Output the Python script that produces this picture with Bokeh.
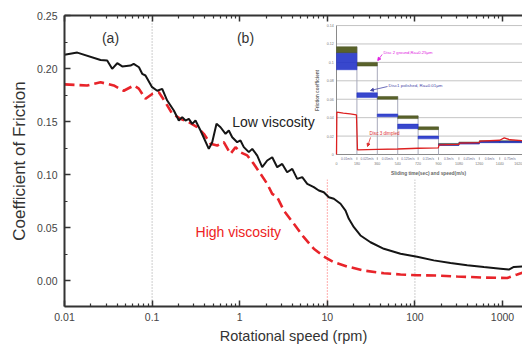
from bokeh.plotting import figure
from bokeh.models import (Range1d, LinearScale, FixedTicker, NumeralTickFormatter,
                          CustomJSTickFormatter, LogAxis, Arrow, NormalHead)
from bokeh.core.properties import value
from bokeh.embed import file_html
from bokeh.resources import INLINE

# ---------------- main chart data ----------------
speed_low = [0.01, 0.014, 0.0258, 0.0307, 0.035, 0.040, 0.0456, 0.0567, 0.0616, 0.0708, 0.0771,
             0.084, 0.100, 0.1143, 0.1304, 0.1487, 0.177, 0.2018, 0.2206, 0.2406, 0.2624, 0.287,
             0.3128, 0.357, 0.4438, 0.4853, 0.5435, 0.604, 0.689, 0.751, 0.821, 0.936, 1.02, 1.114,
             1.27, 1.39, 1.585, 1.806, 2.06, 2.35, 2.68, 3.055, 3.48, 3.98, 4.53, 5.17, 5.9, 7.01,
             8.0, 9.12, 10.4, 11.87, 14.15, 16.14, 17.6, 20.1, 23.9, 31.1, 44.2, 68.5, 106, 164,
             255, 395, 612, 948, 1180, 1346, 1690]
cof_low = [0.213, 0.215, 0.208, 0.2075, 0.1997, 0.205, 0.202, 0.2028, 0.2044, 0.2012, 0.195,
           0.1934, 0.1824, 0.179, 0.1808, 0.1698, 0.1604, 0.1509, 0.1541, 0.1509, 0.1525, 0.1478,
           0.1509, 0.1415, 0.1242, 0.1305, 0.1478, 0.1446, 0.1384, 0.1415, 0.1352, 0.1305, 0.1321,
           0.1258, 0.1211, 0.1242, 0.1179, 0.1069, 0.1132, 0.1163, 0.1069, 0.110, 0.1021, 0.1053,
           0.0959, 0.0975, 0.0912, 0.0881, 0.0849, 0.0833, 0.0786, 0.0771, 0.0724, 0.066, 0.0582,
           0.0503, 0.0425, 0.0361, 0.0299, 0.0252, 0.0225, 0.019, 0.0165, 0.0145, 0.0128, 0.0112,
           0.0103, 0.0128, 0.0132]

speed_high = [0.01, 0.01815, 0.0258, 0.0365, 0.0475, 0.0618, 0.0705, 0.0841, 0.1002, 0.1193,
              0.1422, 0.1696, 0.211, 0.2624, 0.327, 0.389, 0.464, 0.553, 0.658, 0.785, 0.895,
              1.02, 1.218, 1.449, 1.727, 2.06, 2.35, 2.68, 3.19, 4.15, 5.39, 7.01, 9.12, 11.87,
              16.9, 26.1, 44.2, 68.5, 106, 179.8, 304, 612, 1131, 1472, 1690]
cof_high = [0.185, 0.184, 0.187, 0.184, 0.179, 0.184, 0.181, 0.1714, 0.176, 0.1776, 0.168,
            0.1573, 0.1525, 0.1493, 0.1446, 0.1384, 0.129, 0.1274, 0.1305, 0.1195, 0.1258,
            0.121, 0.118, 0.110, 0.1007, 0.0912, 0.0818, 0.0786, 0.066, 0.0535, 0.0409, 0.030,
            0.0226, 0.0173, 0.0132, 0.0094, 0.0069, 0.0057, 0.0050, 0.0047, 0.0038, 0.0028,
            0.0024, 0.0057, 0.0075]

x_ticks = [0.01, 0.1, 1, 10, 100, 1000]
y_ticks = [0.0, 0.05, 0.10, 0.15, 0.20, 0.25]
y_minor = [-0.025, 0.025, 0.075, 0.125, 0.175, 0.225]
marker_speeds = [0.1, 10, 100]
marker_colors = ["#9a9a9a", "#ff5a5a", "#9a9a9a"]

# ---------------- inset data ----------------
seg_start = [0, 180, 360, 540, 720, 900, 1080, 1260, 1440]
seg_end = [180, 360, 540, 720, 900, 1080, 1260, 1440, 1650]
disc2_lo = [0.110, 0.096, 0.060, 0.039, 0.027, 0.0100, 0.0118, 0.0132, 0.0132]
disc2_hi = [0.117, 0.100, 0.063, 0.042, 0.030, 0.0120, 0.0135, 0.0150, 0.0150]
disc1_lo = [0.092, 0.062, 0.041, 0.028, 0.017, 0.0098, 0.0113, 0.0128, 0.0128]
disc1_hi = [0.110, 0.067, 0.044, 0.033, 0.020, 0.0113, 0.0128, 0.0143, 0.0143]
disc3_t = [0, 3, 60, 120, 176, 185, 360, 540, 720, 898, 905, 1080, 1085, 1260, 1265, 1440,
           1480, 1530, 1650]
disc3_v = [0.0, 0.046, 0.045, 0.044, 0.043, 0.005, 0.0055, 0.006, 0.0068, 0.0072, 0.0105,
           0.011, 0.0123, 0.013, 0.0145, 0.0155, 0.018, 0.016, 0.015]
drop_t = [180, 360, 540, 720, 900]
inset_y_ticks = [0.0, 0.02, 0.04, 0.06, 0.08, 0.10, 0.12, 0.14]
inset_y_labels = ["0", "0.02", "0.04", "0.06", "0.08", "0.1", "0.12", "0.14"]
inset_x_ticks = [0, 180, 360, 540, 720, 900, 1080, 1260, 1440, 1620]
inset_speeds = ["0.01m/s", "0.025m/s", "0.05m/s", "0.125m/s", "0.15m/s", "0.3m/s",
                "0.45m/s", "0.6m/s", "0.75m/s"]

FONT = value("Liberation Sans")

p = figure(width=522, height=347, x_axis_type="log",
           x_range=Range1d(0.01, 1690), y_range=Range1d(-0.0245, 0.25),
           output_backend="svg", toolbar_location=None,
           min_border_left=64, min_border_right=0, min_border_top=15, min_border_bottom=41)
p.outline_line_color = None
p.grid.visible = False
p.background_fill_color = "white"
p.border_fill_color = "white"

minor_x = [m * d for d in x_ticks for m in range(2, 10)]


def style_axis(ax):
    ax.axis_line_color = "#333333"
    ax.axis_line_width = 2
    ax.major_tick_in = 6
    ax.major_tick_out = 0
    ax.minor_tick_in = 3
    ax.minor_tick_out = 0
    ax.major_tick_line_color = "#333333"
    ax.minor_tick_line_color = "#333333"
    ax.major_tick_line_width = 1.5
    ax.minor_tick_line_width = 1.2
    ax.major_label_text_font = "Liberation Sans"
    ax.major_label_text_font_size = "10.5px"
    ax.major_label_text_color = "#444444"
    ax.axis_label_text_font = "Liberation Sans"
    ax.axis_label_text_font_style = "normal"
    ax.axis_label_text_color = "#333333"


xa = p.xaxis[0]
xa.ticker = FixedTicker(ticks=x_ticks, minor_ticks=minor_x)
xa.formatter = CustomJSTickFormatter(code="return String(tick);")
style_axis(xa)
xa.axis_label = "Rotational speed (rpm)"
xa.axis_label_text_font_size = "14.5px"
xa.major_label_standoff = 6
xa.axis_label_standoff = 4

ya = p.yaxis[0]
ya.ticker = FixedTicker(ticks=y_ticks, minor_ticks=y_minor)
ya.formatter = NumeralTickFormatter(format="0.00")
style_axis(ya)
ya.axis_label = "Coefficient of Friction"
ya.axis_label_text_font_size = "17px"
ya.major_label_standoff = 7
ya.axis_label_standoff = 5

top = LogAxis(ticker=FixedTicker(ticks=x_ticks, minor_ticks=minor_x))
style_axis(top)
top.major_label_text_font_size = "1px"
top.major_label_text_color = None
top.major_label_standoff = 0
p.add_layout(top, "above")

# vertical dotted markers
p.segment(x0=marker_speeds, x1=marker_speeds, y0=[-0.0245] * 3, y1=[0.25] * 3,
          line_color=marker_colors, line_width=1, line_dash="1 2")

# curves
p.line(speed_high, cof_high, line_color="#e8242a", line_width=2.6, line_dash="10 5")
p.line(speed_low, cof_low, line_color="#151515", line_width=2)

# ---------------- inset ----------------
p.extra_x_ranges = {"ix": Range1d(-2400, 1641)}
p.extra_x_scales = {"ix": LinearScale()}
p.extra_y_ranges = {"iy": Range1d(-0.165, 0.1509)}
p.extra_y_scales = {"iy": LinearScale()}
ik = dict(x_range_name="ix", y_range_name="iy")

p.quad(left=[-194], right=[1700], bottom=[-0.027], top=[0.17],
       fill_color="white", line_color=None, **ik)

grid_y = inset_y_ticks[1:]
p.segment(x0=[0] * len(grid_y), x1=[1650] * len(grid_y), y0=grid_y, y1=grid_y,
          line_color="#bdbdbd", line_width=0.9, **ik)
p.segment(x0=[0, 0], x1=[0, 1650], y0=[0, 0], y1=[0.14, 0], line_color="#8a8a8a",
          line_width=1, **ik)

drop_top = [max(disc2_hi[i], disc2_hi[i + 1] if i + 1 < len(disc2_hi) else 0)
            for i in range(len(drop_t))]
p.segment(x0=drop_t, x1=drop_t, y0=[0] * len(drop_t), y1=drop_top,
          line_color="#a8aabb", line_width=1, **ik)

p.quad(left=seg_start, right=seg_end, bottom=disc2_lo, top=disc2_hi,
       fill_color="#59622a", line_color="#4a5222", line_width=0.5, **ik)
p.quad(left=seg_start, right=seg_end, bottom=disc1_lo, top=disc1_hi,
       fill_color="#2233c8", line_color="#2233c8", line_width=0.5, fill_alpha=0.9, **ik)
p.line(disc3_t, disc3_v, line_color="#dd2020", line_width=1.3, **ik)

p.text(x=[-25] * len(inset_y_ticks), y=inset_y_ticks, text=inset_y_labels, text_font=FONT,
       text_font_size="3.6px", text_color="#777777", text_align="right",
       text_baseline="middle", **ik)
p.text(x=inset_x_ticks[:-1], y=[-0.0098] * (len(inset_x_ticks) - 1),
       text=[str(t) for t in inset_x_ticks[:-1]], text_font=FONT, text_font_size="3.6px",
       text_color="#777777", text_align="center", text_baseline="middle", **ik)
p.text(x=[1638], y=[-0.0098], text=[str(inset_x_ticks[-1])], text_font=FONT,
       text_font_size="3.6px", text_color="#777777", text_align="right",
       text_baseline="middle", **ik)
mid_t = [(a + b) / 2 for a, b in zip(seg_start, [180, 360, 540, 720, 900, 1080, 1260, 1440, 1620])]
p.text(x=mid_t, y=[-0.0043] * len(mid_t), text=inset_speeds, text_font=FONT,
       text_font_size="3.2px", text_color="#6a6a8a", text_align="center",
       text_baseline="middle", **ik)
p.segment(x0=drop_t + [1080, 1260, 1440], x1=drop_t + [1080, 1260, 1440],
          y0=[-0.003] * 8, y1=[-0.0058] * 8, line_color="#999999", line_width=0.8, **ik)
p.text(x=[812], y=[-0.021], text=["Sliding time(sec) and speed(m/s)"], text_font=FONT,
       text_font_size="4.8px", text_font_style="bold", text_color="#666666",
       text_align="center", text_baseline="middle", **ik)
p.text(x=[-168], y=[0.0695], text=["Friction coefficient"], text_font=FONT,
       text_font_size="4.6px", text_font_style="bold", text_color="#666666",
       text_align="center", text_baseline="middle", angle=1.5708, **ik)

p.text(x=[415], y=[0.111], text=["Disc 2 ground,Ra=0.25\u03bcm"], text_font=FONT,
       text_font_size="4.2px", text_color="#e020e0", text_baseline="middle", **ik)
p.text(x=[459], y=[0.0749], text=["Disc1 polished, Ra=0.01\u03bcm"], text_font=FONT,
       text_font_size="4.4px", text_color="#4848a8", text_baseline="middle", **ik)
p.text(x=[291], y=[0.0225], text=["Disc 3 dimpled"], text_font=FONT,
       text_font_size="4.6px", text_color="#dd3030", text_baseline="middle", **ik)

p.add_layout(Arrow(end=NormalHead(size=3, fill_color="#e020e0", line_color="#e020e0"),
                   x_start=403, y_start=0.1086, x_end=364, y_end=0.102,
                   line_color="#e020e0", line_width=0.8, **ik))
p.add_layout(Arrow(end=NormalHead(size=3, fill_color="#4848a8", line_color="#4848a8"),
                   x_start=450, y_start=0.0738, x_end=300, y_end=0.0695,
                   line_color="#4848a8", line_width=0.8, **ik))
p.add_layout(Arrow(end=NormalHead(size=3, fill_color="#dd3030", line_color="#dd3030"),
                   x_start=300, y_start=0.0185, x_end=274, y_end=0.0087,
                   line_color="#dd3030", line_width=0.8, **ik))

# main chart texts (drawn last so nothing covers them)
p.text(x=[0.0335, 1.164], y=[0.2292, 0.2292], text=["(a)", "(b)"], text_font=FONT,
       text_font_size="14px", text_color="#333333", text_align="center",
       text_baseline="middle")
p.text(x=[0.821], y=[0.1494], text=["Low viscosity"], text_font=FONT,
       text_font_size="14px", text_color="#222222", text_baseline="middle")
p.text(x=[0.313], y=[0.0456], text=["High viscosity"], text_font=FONT,
       text_font_size="14px", text_color="#ee2222", text_baseline="middle")

open("out.html", "w").write(file_html(p, INLINE))
